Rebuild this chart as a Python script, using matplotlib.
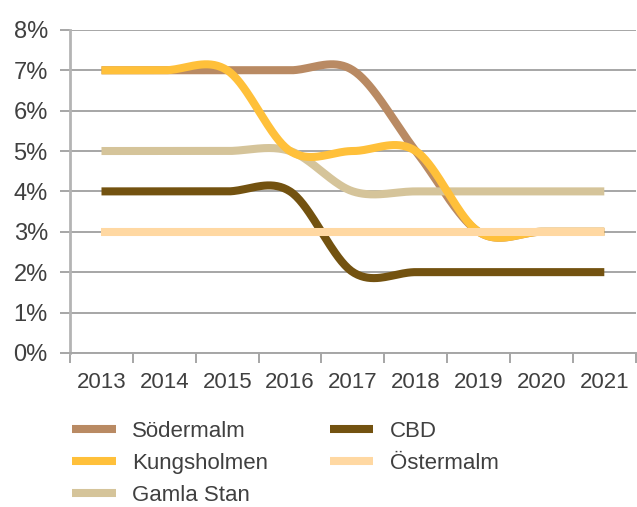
import matplotlib
matplotlib.use("Agg")
import matplotlib.pyplot as plt
import numpy as np

years = ["2013", "2014", "2015", "2016", "2017", "2018", "2019", "2020", "2021"]
sodermalm = [7, 7, 7, 7, 7, 5, 3, 3, 3]
kungsholmen = [7, 7, 7, 5, 5, 5, 3, 3, 3]
gamla_stan = [5, 5, 5, 5, 4, 4, 4, 4, 4]
cbd = [4, 4, 4, 4, 2, 2, 2, 2, 2]
ostermalm = [3, 3, 3, 3, 3, 3, 3, 3, 3]

series = [
    ("Södermalm", sodermalm, "#B98A63", 1),
    ("Kungsholmen", kungsholmen, "#FFC03A", 4),
    ("Gamla Stan", gamla_stan, "#D5C49A", 2),
    ("CBD", cbd, "#735210", 3),
    ("Östermalm", ostermalm, "#FFD8A2", 5),
]
legend_order = ["Södermalm", "Kungsholmen", "Gamla Stan", "CBD", "Östermalm"]

plt.rcParams["font.family"] = ["Liberation Sans", "DejaVu Sans"]
TEXT = "#404040"
GRID = "#A6A6A6"


def smooth(y, n=40):
    # Excel-style smoothed line (Catmull-Rom through the points)
    y = np.asarray(y, dtype=float)
    p = np.concatenate([[y[0]], y, [y[-1]]])
    xs, ys = [], []
    t = np.linspace(0, 1, n)
    for i in range(len(y) - 1):
        p0, p1, p2, p3 = p[i], p[i + 1], p[i + 2], p[i + 3]
        c1 = p1 + (p2 - p0) / 6
        c2 = p2 - (p3 - p1) / 6
        seg = (1 - t) ** 3 * p1 + 3 * (1 - t) ** 2 * t * c1 + 3 * (1 - t) * t ** 2 * c2 + t ** 3 * p2
        xs.append(i + t)
        ys.append(seg)
    return np.concatenate(xs), np.concatenate(ys)


fig = plt.figure(figsize=(6.37, 5.07), dpi=100)
ax = fig.add_axes([0.110, 0.304, 0.888, 0.637])

x = np.arange(len(years))
handles = {}
for name, vals, color, z in series:
    sx, sy = smooth(vals)
    (ln,) = ax.plot(sx, sy, color=color, lw=5.8, solid_capstyle="butt", zorder=z + 2, label=name)
    handles[name] = ln

ax.set_xlim(-0.5, len(years) - 0.5)
ax.set_ylim(0, 8)
ax.set_yticks(range(0, 9))
ax.set_yticklabels([f"{v}%" for v in range(0, 9)])
ax.yaxis.grid(True, color=GRID, lw=1.4)
ax.set_axisbelow(True)

ax.set_xticks(x)
ax.set_xticklabels(years)
ax.set_xticks(np.arange(-0.5, len(years)), minor=True)
ax.tick_params(axis="x", which="major", length=0, pad=14, labelsize=16, labelcolor=TEXT)
ax.tick_params(axis="x", which="minor", length=7, width=1.4, color=GRID, direction="out")
ax.tick_params(axis="y", length=7, width=1.4, color=GRID, pad=9, labelsize=17, labelcolor=TEXT)

for s in ["top", "right"]:
    ax.spines[s].set_visible(False)
ax.spines["left"].set_color("#B4B4B4")
ax.spines["left"].set_linewidth(2)
ax.spines["bottom"].set_color(GRID)
ax.spines["bottom"].set_linewidth(1.4)

leg = fig.legend(
    [handles[n] for n in legend_order],
    legend_order,
    ncol=2,
    loc="upper left",
    bbox_to_anchor=(0.082, 0.209),
    frameon=False,
    fontsize=16,
    handlelength=1.95,
    handletextpad=0.75,
    columnspacing=2.78,
    labelspacing=0.5,
    labelcolor=TEXT,
)

fig.savefig("out.png", dpi=100)
